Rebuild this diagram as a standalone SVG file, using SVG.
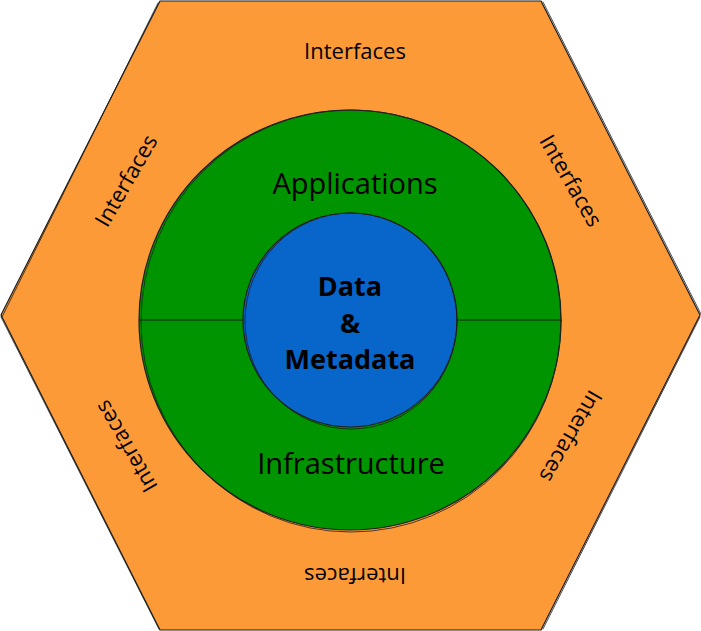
<svg xmlns="http://www.w3.org/2000/svg" width="701" height="631" viewBox="0 0 701 631">
<style>
.ln{fill:none;stroke:#1e1e1e;stroke-width:1.2;stroke-linecap:round;stroke-linejoin:round}
.th{fill:none;stroke:#1e1e1e;stroke-width:0.8;stroke-linecap:round}
.lbl{font-family:"Open Sans",Lato,sans-serif;font-size:22px;fill:#000;text-anchor:middle;dominant-baseline:central}
.big{font-family:"Open Sans",Lato,sans-serif;font-size:29px;fill:#000;text-anchor:middle;dominant-baseline:central}
.core{font-family:"Open Sans",Lato,sans-serif;font-size:27px;font-weight:bold;fill:#000;text-anchor:middle;dominant-baseline:central}
</style>
<g id="hexagon">
<polygon points="160,1 541,1 700,315 541,630 160,630 1,315" fill="#fd9a38" stroke="none"/>
<path class="ln" d="M160,1 L541,1 L700,315 L541,630 L160,630 L1,315 Z"/>
<path class="th" d="M158,3 L2,317 M543,2 L702,316 M700,317 L543,629 M1,317 L159,629"/>
<text class="lbl" x="355" y="50">Interfaces</text>
<text class="lbl" transform="translate(572,180) rotate(60)">Interfaces</text>
<text class="lbl" transform="translate(572,437) rotate(120)">Interfaces</text>
<text class="lbl" transform="translate(355,577) rotate(180)">Interfaces</text>
<text class="lbl" transform="translate(125,447) rotate(240)">Interfaces</text>
<text class="lbl" transform="translate(125,180) rotate(300)">Interfaces</text>
</g>
<g id="ring">
<ellipse cx="350" cy="320" rx="211" ry="210" fill="#009400"/>
<ellipse class="ln" cx="350" cy="320" rx="211" ry="210"/>
<ellipse class="th" cx="351" cy="321" rx="210" ry="211"/>
<text class="big" x="355" y="182">Applications</text>
<text class="big" x="351" y="462">Infrastructure</text>
</g>
<g id="connectors">
<line class="ln" x1="140" y1="320" x2="243" y2="320"/>
<line class="ln" x1="457" y1="320" x2="561" y2="320"/>
</g>
<g id="core">
<circle cx="350" cy="320" r="107" fill="#0865c9"/>
<circle class="ln" cx="350" cy="320" r="107"/>
<ellipse class="th" cx="351" cy="321" rx="106" ry="108"/>
<text class="core" x="350" y="285">Data</text>
<text class="core" x="350" y="322">&amp;</text>
<text class="core" x="350" y="358">Metadata</text>
</g>
</svg>
